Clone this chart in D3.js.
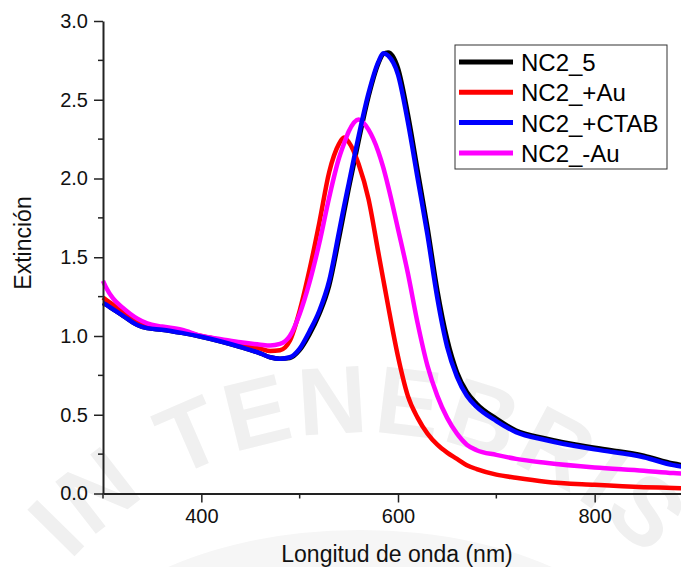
<!DOCTYPE html>
<html>
<head>
<meta charset="utf-8">
<script src="https://cdn.jsdelivr.net/npm/d3@7"></script>
<style>
  body { margin: 0; background: #fff; }
  svg { display: block; font-family: Arial, "Liberation Sans", sans-serif; }
</style>
</head>
<body>
<svg id="chart" width="681" height="567"></svg>
<script>
// wavelengths (nm) shared by all spectra
const wavelength = [300, 303, 310, 320, 335, 345, 360, 380, 400, 420, 440, 460, 470, 480, 490, 500, 510, 520, 530, 540, 545, 550, 560, 570, 580, 585, 590, 600, 610, 620, 630, 640, 650, 660, 670, 680, 700, 720, 750, 800, 850, 880, 900]

const nc2_5 = [1.21, 1.20, 1.17, 1.13, 1.07, 1.05, 1.04, 1.02, 0.995, 0.965, 0.93, 0.89, 0.865, 0.855, 0.86, 0.91, 1.01, 1.14, 1.32, 1.62, 1.78, 1.94, 2.24, 2.52, 2.73, 2.79, 2.80, 2.70, 2.41, 2.05, 1.69, 1.29, 0.98, 0.77, 0.645, 0.57, 0.475, 0.40, 0.35, 0.29, 0.24, 0.19, 0.17]
const nc2_plusAu = [1.245, 1.23, 1.20, 1.15, 1.09, 1.06, 1.05, 1.03, 1.00, 0.975, 0.95, 0.92, 0.905, 0.91, 0.97, 1.16, 1.42, 1.72, 2.04, 2.22, 2.26, 2.23, 2.09, 1.87, 1.53, 1.36, 1.19, 0.87, 0.62, 0.48, 0.38, 0.31, 0.26, 0.22, 0.18, 0.155, 0.12, 0.10, 0.075, 0.055, 0.04, 0.035, 0.03]
const nc2_plusCTAB = [1.21, 1.20, 1.17, 1.13, 1.07, 1.05, 1.04, 1.02, 0.995, 0.965, 0.93, 0.89, 0.865, 0.855, 0.865, 0.92, 1.03, 1.16, 1.35, 1.66, 1.82, 1.97, 2.27, 2.54, 2.74, 2.795, 2.78, 2.66, 2.36, 2.00, 1.64, 1.24, 0.93, 0.74, 0.62, 0.55, 0.46, 0.39, 0.34, 0.28, 0.23, 0.18, 0.16]
const nc2_minusAu = [1.35, 1.31, 1.24, 1.18, 1.11, 1.08, 1.06, 1.04, 1.00, 0.98, 0.96, 0.945, 0.94, 0.95, 1.00, 1.14, 1.34, 1.59, 1.88, 2.13, 2.22, 2.30, 2.375, 2.31, 2.17, 2.07, 1.95, 1.68, 1.40, 1.08, 0.81, 0.62, 0.48, 0.38, 0.31, 0.275, 0.245, 0.22, 0.195, 0.165, 0.145, 0.13, 0.125]

const seriesNames = ['NC2_5', 'NC2_+Au', 'NC2_+CTAB', 'NC2_-Au']
const seriesValues = [nc2_5, nc2_plusAu, nc2_plusCTAB, nc2_minusAu]
const seriesColors = ['#000000', '#ff0000', '#0000ff', '#ff00ff']

const xTicks = [400, 600, 800]
const xMinorTicks = [300, 500, 700, 900]
const yTicks = [0, 0.5, 1.0, 1.5, 2.0, 2.5, 3.0]
const yMinorTicks = [0.25, 0.75, 1.25, 1.75, 2.25, 2.75]

const svg = d3.select('#chart')

const xScale = d3.scaleLinear().domain([300, 900]).range([103, 693])
const yScale = d3.scaleLinear().domain([0, 3]).range([493.5, 21])

// faint watermark behind the plot
const wm = svg.append('g')
wm.append('ellipse')
    .attr('cx', 360).attr('cy', 690)
    .attr('rx', 300).attr('ry', 160)
    .attr('fill', '#f6f6f6')
const arcPath = d3.path()
arcPath.arc(360, 825, 392, Math.PI, 2 * Math.PI)
wm.append('path')
    .attr('id', 'wmArc')
    .attr('fill', 'none')
    .attr('d', arcPath.toString())
wm.append('text')
    .attr('font-size', 96)
    .attr('font-weight', 'bold')
    .attr('fill', '#f0f0f0')
    .attr('letter-spacing', 4)
    .append('textPath')
    .attr('href', '#wmArc')
    .attr('startOffset', '50%')
    .attr('text-anchor', 'middle')
    .text('IN TENEBRIS')

// curves, black first so blue sits on top of it
const line = d3.line()
    .x((d, i) => xScale(wavelength[i]))
    .y(d => yScale(d))
    .curve(d3.curveMonotoneX)

const drawOrder = [0, 1, 3, 2]
drawOrder.forEach(k => {
    svg.append('path')
        .datum(seriesValues[k])
        .attr('fill', 'none')
        .attr('stroke', seriesColors[k])
        .attr('stroke-width', 4.5)
        .attr('stroke-linejoin', 'round')
        .attr('d', line)
})

// x axis
const xAxis = svg.append('g')
    .attr('transform', `translate(0,${yScale(0)})`)
    .call(d3.axisBottom(xScale).tickValues(xTicks).tickSize(9).tickPadding(6).tickSizeOuter(0))
xAxis.append('g')
    .selectAll('line')
    .data(xMinorTicks)
    .join('line')
    .attr('x1', d => xScale(d)).attr('x2', d => xScale(d))
    .attr('y1', 0).attr('y2', 5)
    .attr('stroke', '#222').attr('stroke-width', 1.5)
xAxis.select('.domain').attr('stroke', '#222').attr('stroke-width', 2)
xAxis.selectAll('.tick line').attr('stroke', '#222').attr('stroke-width', 1.5)
xAxis.selectAll('.tick text')
    .attr('font-size', 20)
    .attr('font-family', 'Arial, "Liberation Sans", sans-serif')
    .attr('fill', '#111')

// y axis
const yAxis = svg.append('g')
    .attr('transform', `translate(${xScale(300)},0)`)
    .call(d3.axisLeft(yScale).tickValues(yTicks).tickFormat(d3.format('.1f')).tickSize(9).tickPadding(6).tickSizeOuter(0))
yAxis.append('g')
    .selectAll('line')
    .data(yMinorTicks)
    .join('line')
    .attr('y1', d => yScale(d)).attr('y2', d => yScale(d))
    .attr('x1', 0).attr('x2', -5)
    .attr('stroke', '#222').attr('stroke-width', 1.5)
yAxis.select('.domain').attr('stroke', '#222').attr('stroke-width', 2)
yAxis.selectAll('.tick line').attr('stroke', '#222').attr('stroke-width', 1.5)
yAxis.selectAll('.tick text')
    .attr('font-size', 20)
    .attr('font-family', 'Arial, "Liberation Sans", sans-serif')
    .attr('fill', '#111')

// axis titles
svg.append('text')
    .attr('x', 397)
    .attr('y', 562)
    .attr('text-anchor', 'middle')
    .attr('font-size', 23)
    .attr('fill', '#111')
    .text('Longitud de onda (nm)')

svg.append('text')
    .attr('transform', 'translate(31,243) rotate(-90)')
    .attr('text-anchor', 'middle')
    .attr('font-size', 23)
    .attr('fill', '#111')
    .text('Extinción')

// legend
const legend = svg.append('g').attr('transform', 'translate(455,45)')
legend.append('rect')
    .attr('width', 212)
    .attr('height', 124)
    .attr('fill', '#fff')
    .attr('stroke', '#333')
    .attr('stroke-width', 1)

seriesNames.forEach((name, i) => {
    const row = legend.append('g').attr('transform', `translate(0,${17 + i * 30.3})`)
    row.append('line')
        .attr('x1', 4).attr('x2', 58)
        .attr('stroke', seriesColors[i])
        .attr('stroke-width', 5)
    row.append('text')
        .attr('x', 66)
        .attr('y', 9)
        .attr('font-size', 24)
        .attr('fill', '#000')
        .text(name)
})
</script>
</body>
</html>
